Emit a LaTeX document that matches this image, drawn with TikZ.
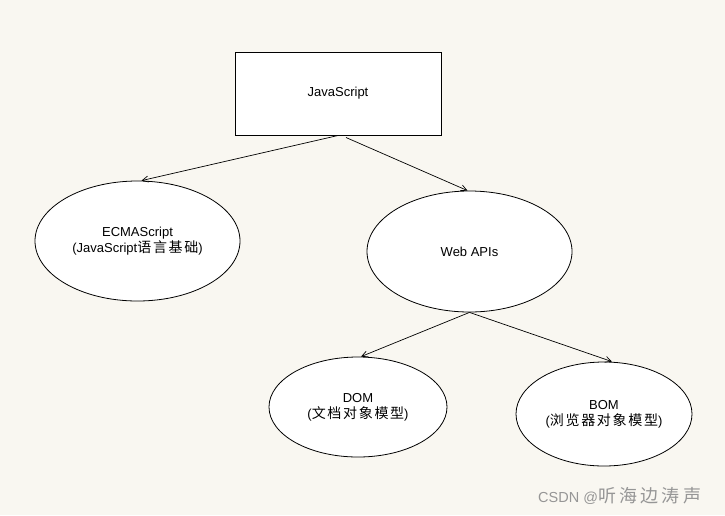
\documentclass[tikz,border=0pt]{standalone}
\usepackage{fontspec}
\setmainfont{Liberation Sans}
\newfontfamily\cjk[LetterSpace=12]{Noto Sans CJK SC}
\newfontfamily\cjkw[LetterSpace=18]{Noto Sans CJK SC}
\usetikzlibrary{arrows.meta,shapes.geometric}
\definecolor{bg}{RGB}{249,247,241}
\definecolor{wmgray}{RGB}{150,150,150}
\begin{document}
\begin{tikzpicture}[x=1pt,y=-1pt,
  every node/.style={font=\fontsize{13}{16}\selectfont},
  box/.style={draw, line width=1pt, fill=white, minimum width=206pt, minimum height=83pt, inner sep=0pt},
  oval/.style={draw, line width=0.8pt, fill=white, ellipse, inner sep=0pt, align=center},
  arr/.style={-{Straight Barb[length=6pt,width=6pt]}, line width=0.7pt}]
\useasboundingbox (0,0) rectangle (725,515);
\fill[bg] (0,0) rectangle (725,515);
\node[box] (js) at (338,93.5) {JavaScript};
\node[oval, minimum width=205pt, minimum height=120pt] (ecma) at (137.5,241) {ECMAScript\\(JavaScript{\cjk\fontsize{14}{16}\selectfont 语言基础})};
\node[oval, minimum width=205pt, minimum height=121pt] (web) at (469.5,251.5) {Web APIs};
\node[oval, minimum width=178pt, minimum height=100pt] (dom) at (358,407) {DOM\\({\cjk\fontsize{14}{16}\selectfont 文档对象模型})};
\node[oval, minimum width=176pt, minimum height=104pt] (bom) at (604,414) {BOM\\({\cjk\fontsize{14}{16}\selectfont 浏览器对象模型})};
\draw[arr] (js.south) -- ([xshift=4pt]ecma.north);
\draw[arr] ([xshift=8pt,yshift=-2pt]js.south) -- ([xshift=-2pt]web.north);
\draw[arr] (web.south) -- ([xshift=3pt]dom.north);
\draw[arr] (web.south) -- ([xshift=8pt]bom.north);
\node[text=wmgray, anchor=west, inner sep=0pt, font=\fontsize{14.5}{16}\selectfont] (wm) at (538,496) {CSDN @{\cjkw\fontsize{18}{18}\selectfont 听海边涛声}};
\end{tikzpicture}
\end{document}
